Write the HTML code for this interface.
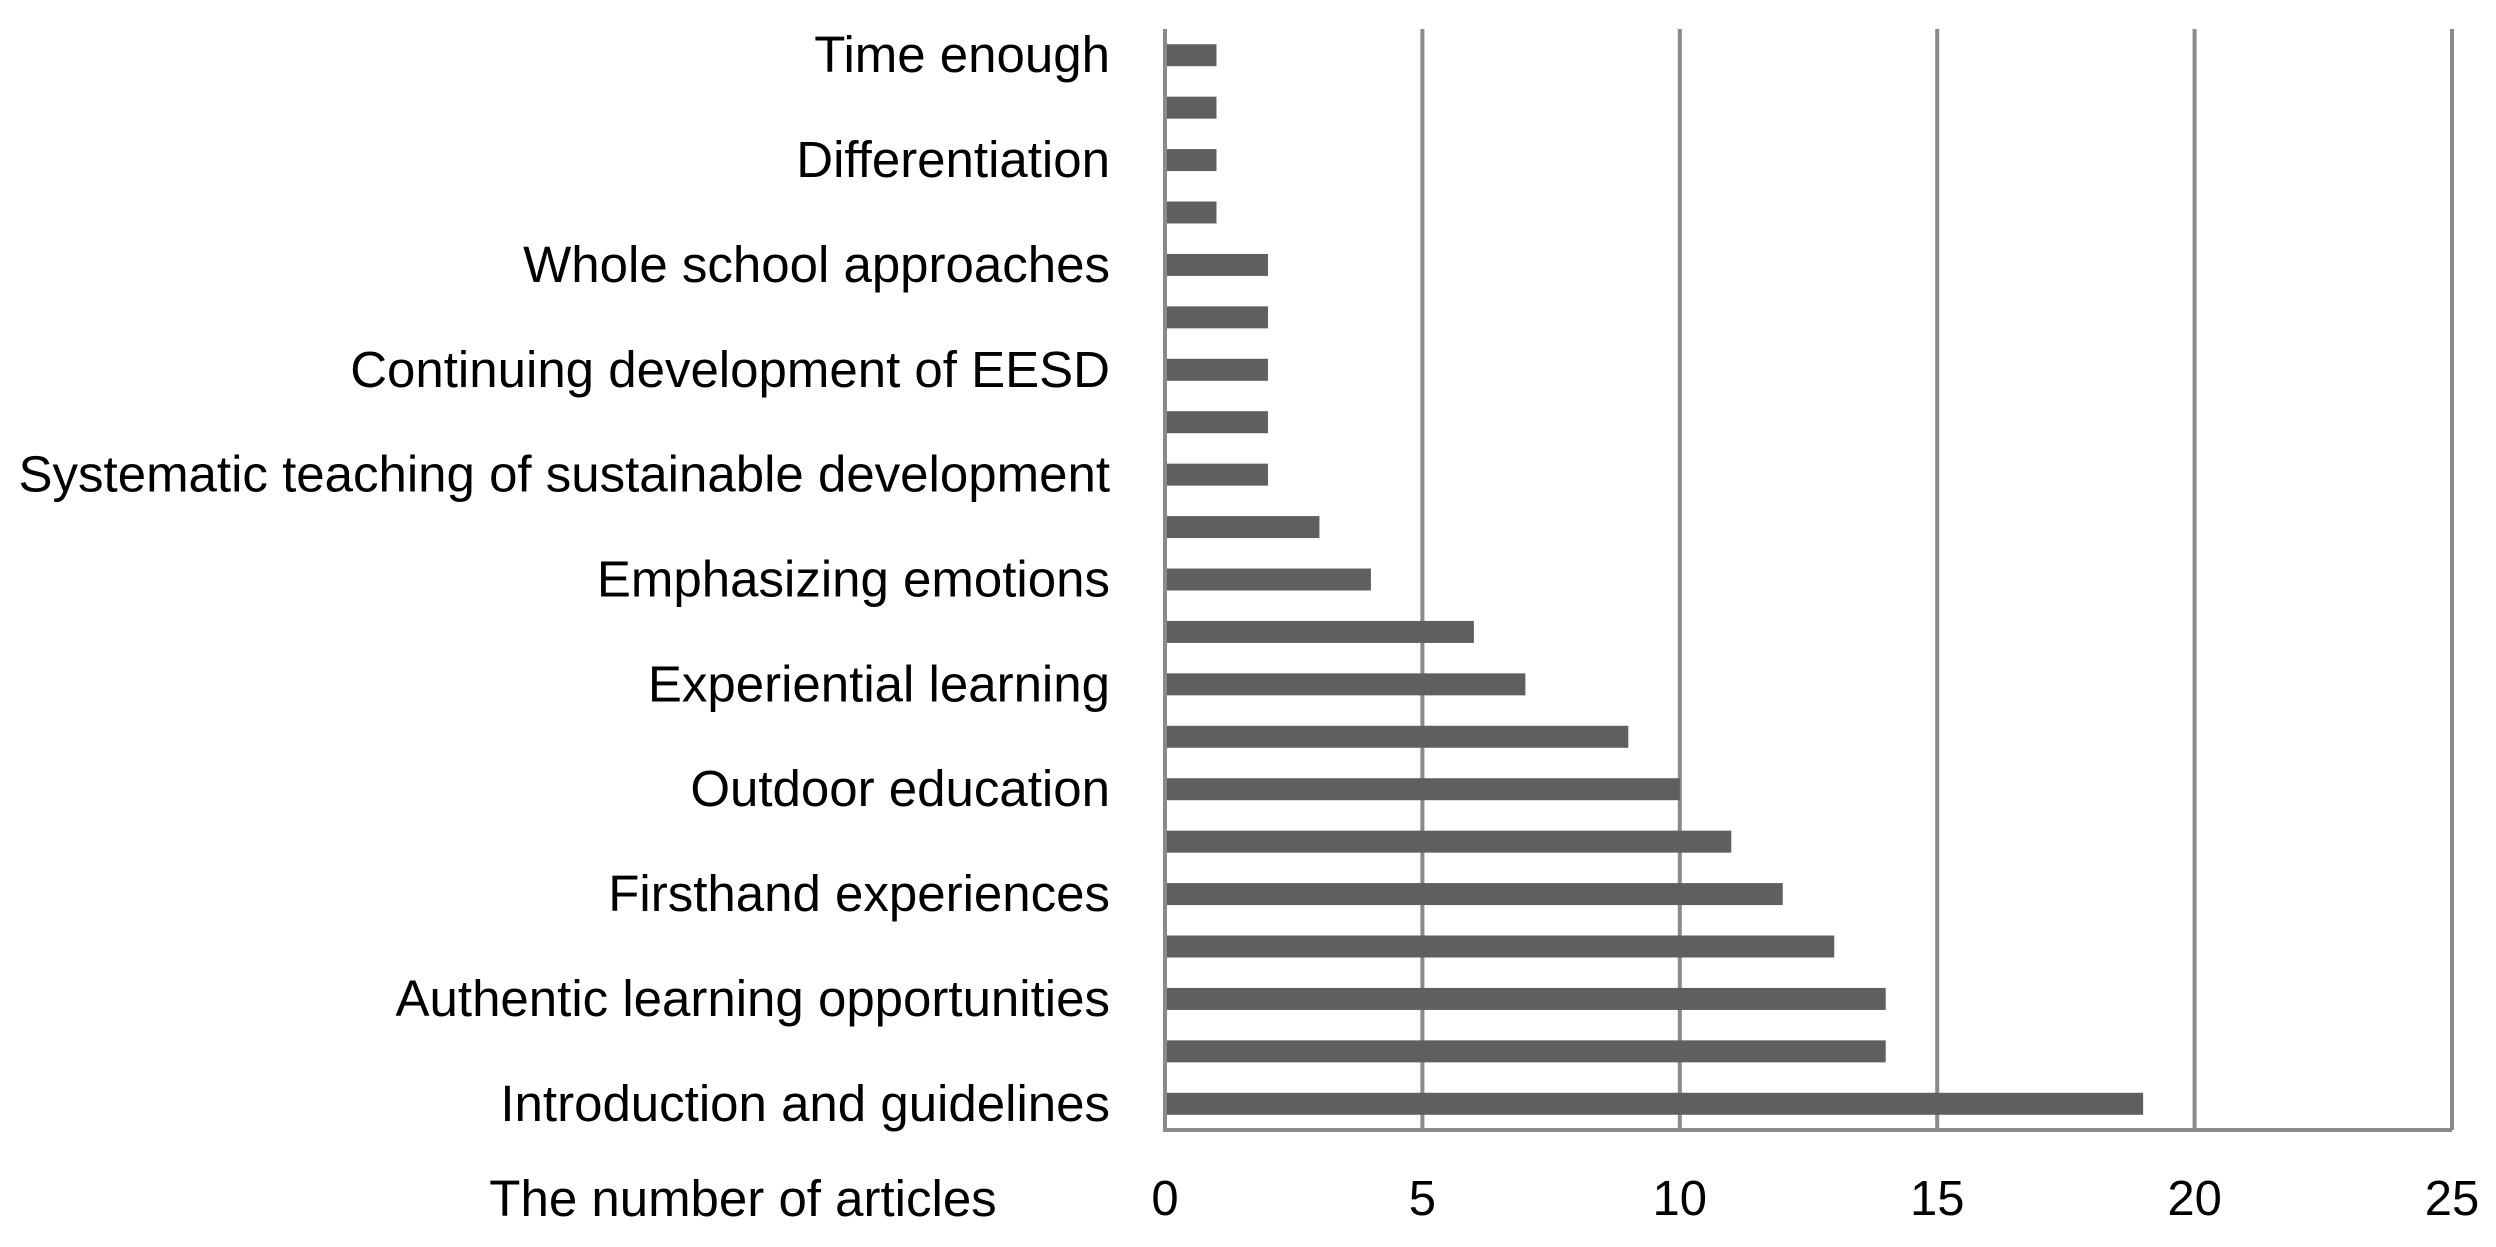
<!DOCTYPE html>
<html><head><meta charset="utf-8"><style>
html,body{margin:0;padding:0;background:#fff;}
svg{display:block;font-family:"Liberation Sans",sans-serif;}
</style></head><body>
<svg id="chart" width="2496" height="1247"></svg>
<script>
const categories=["Time enough","","Differentiation","","Whole school approaches","","Continuing development of EESD","","Systematic teaching of sustainable development","","Emphasizing emotions","","Experiential learning","","Outdoor education","","Firsthand experiences","","Authentic learning opportunities","","Introduction and guidelines"];
const values=[1,1,1,1,2,2,2,2,2,3,4,6,7,9,10,11,12,13,14,14,19];
const ticks=[0,5,10,15,20,25];
const NS="http://www.w3.org/2000/svg";
const svg=document.getElementById('chart');
const x0=1165,x1=2452,yTop=29,yBot=1130,xMax=25;
function xs(v){return x0+(x1-x0)*v/xMax;}
const band=(yBot-yTop)/categories.length;
function yc(i){return yTop+band*(i+0.5);}
function mk(t,a){const e=document.createElementNS(NS,t);for(const k in a)e.setAttribute(k,a[k]);svg.appendChild(e);return e;}
ticks.forEach(t=>{
  if(t>0){const g=mk('line',{x1:xs(t),x2:xs(t),y1:yTop,y2:yBot,stroke:'#8a8a8a','stroke-width':4});
  
  }
  const tx=mk('text',{x:xs(t),y:1215,'text-anchor':'middle','font-size':49,fill:'#000'});
  tx.textContent=t;
  
  
});
values.forEach((v,i)=>{
  const r=mk('rect',{x:x0,y:yc(i)-11,width:xs(v)-x0,height:22,fill:'#5f5f5f'});
  
  
  if(categories[i]){
    const t=mk('text',{x:1110,y:yc(i)+17,'text-anchor':'end','font-size':51,fill:'#000'});
    t.textContent=categories[i];
    
    
  }
});
const ax=mk('path',{d:`M${x0} ${yTop}V${yBot}H${x1}`,fill:'none',stroke:'#8a8a8a','stroke-width':4});


const ti=mk('text',{x:743,y:1216,'text-anchor':'middle','font-size':51,fill:'#000'});
ti.textContent='The number of articles';


</script>
</body></html>
